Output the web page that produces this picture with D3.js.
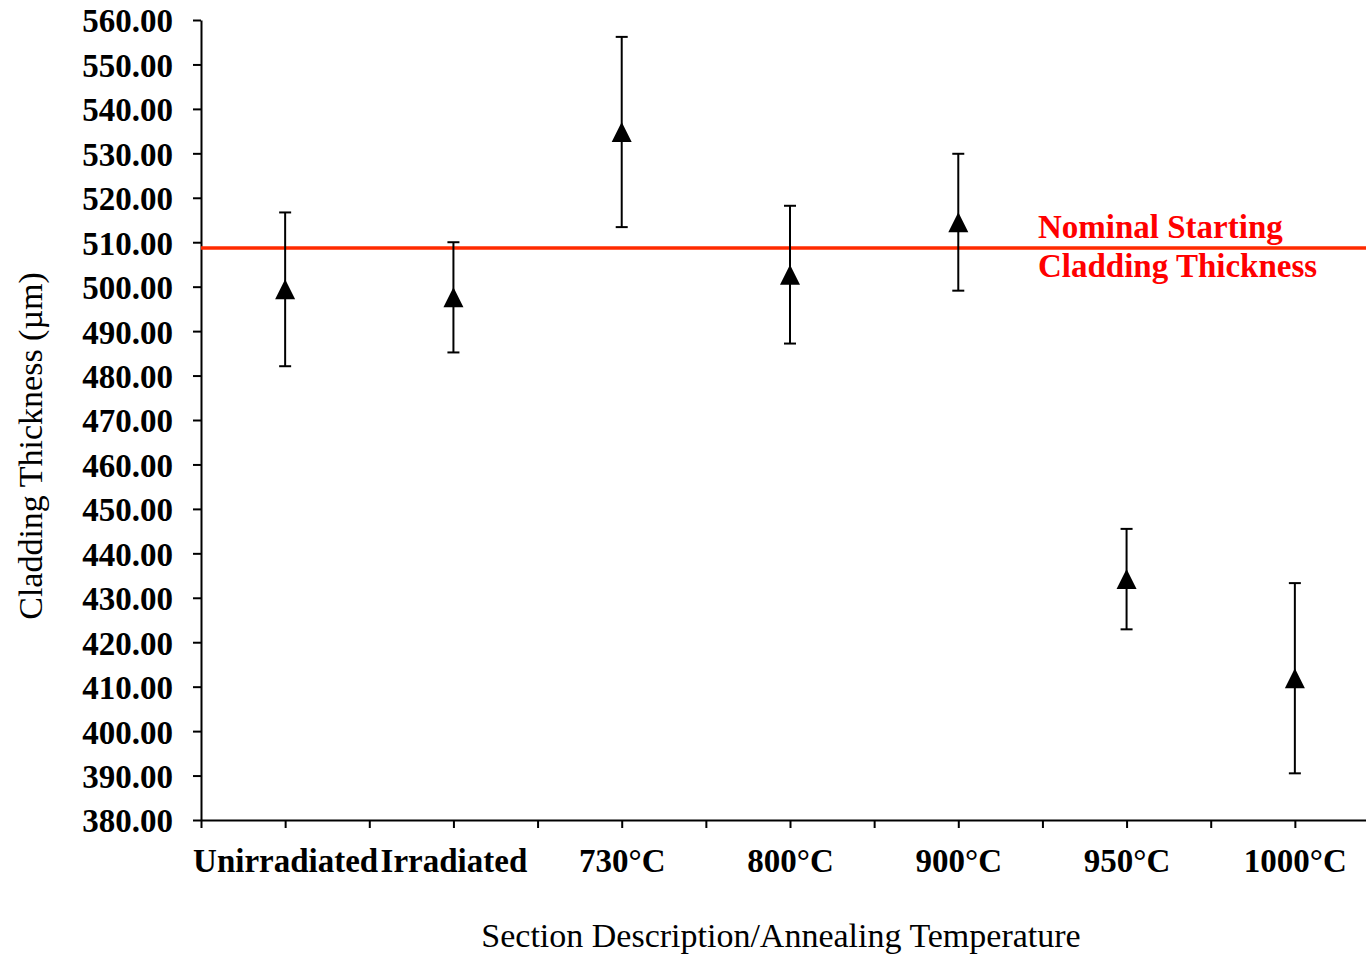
<!DOCTYPE html>
<html>
<head>
<meta charset="utf-8">
<script src="https://cdn.jsdelivr.net/npm/d3@7"></script>
<style>
  body { margin: 0; background: #fff; }
  svg { display: block; }
</style>
</head>
<body>
<div id="chart"></div>
<script>
// section / annealing temperature categories
const categories = ["Unirradiated", "Irradiated", "730°C", "800°C", "900°C", "950°C", "1000°C"];
// mean cladding thickness (µm) and error bar half-width
const means = [499.4, 497.6, 534.8, 502.7, 514.5, 434.2, 411.9];
const errors = [17.3, 12.4, 21.4, 15.5, 15.4, 11.3, 21.4];
const yTicks = d3.range(380, 561, 10);
const nominalThickness = 508.7;
const nominalLabel = ["Nominal Starting", "Cladding Thickness"];

const width = 1366, height = 956;
const serif = "'Liberation Serif', 'Times New Roman', serif";

const svg = d3.select("#chart")
  .append("svg")
  .attr("width", width)
  .attr("height", height);

// x is a category index scale (1..7), half steps mark boundaries
const x = d3.scaleLinear().domain([0.5, categories.length + 0.5]).range([201, 1379]);
const y = d3.scaleLinear().domain([380, 560]).range([820, 20]);

// y axis
const yAxis = svg.append("g")
  .attr("transform", "translate(201,0)")
  .call(d3.axisLeft(y)
    .tickValues(yTicks)
    .tickFormat(d3.format(".2f"))
    .tickSize(8)
    .tickSizeOuter(0)
    .tickPadding(20));

// x axis
const xAxis = svg.append("g")
  .attr("transform", "translate(0,820)")
  .call(d3.axisBottom(x)
    .tickValues(d3.range(0.5, categories.length + 0.01, 0.5))
    .tickFormat(d => Number.isInteger(d) ? categories[d - 1] : "")
    .tickSize(8)
    .tickSizeOuter(0)
    .tickPadding(21));

[yAxis, xAxis].forEach(ax => {
  ax.select(".domain").attr("stroke", "#000").attr("stroke-width", 2);
  ax.selectAll(".tick line").attr("stroke", "#000").attr("stroke-width", 2);
  ax.selectAll(".tick text")
    .attr("fill", "#000")
    .style("font-family", serif)
    .style("font-size", "33px")
    .style("font-weight", "bold");
});
yAxis.selectAll(".tick text").attr("dy", "0.36em");

// nominal starting thickness line
svg.append("line")
  .attr("x1", x(0.5))
  .attr("x2", width)
  .attr("y1", y(nominalThickness))
  .attr("y2", y(nominalThickness))
  .attr("stroke", "#ff2a00")
  .attr("stroke-width", 3.5);

svg.append("text")
  .attr("x", 1038)
  .attr("y", 238)
  .attr("fill", "#ff0000")
  .style("font-family", serif)
  .style("font-size", "33px")
  .style("font-weight", "bold")
  .selectAll("tspan")
  .data(nominalLabel)
  .join("tspan")
  .attr("x", 1038)
  .attr("dy", (d, i) => i === 0 ? 0 : 39)
  .text(d => d);

// error bars
const points = categories.map((c, i) => ({ cat: c, idx: i + 1, mean: means[i], err: errors[i] }));
const capW = 12;

const bars = svg.append("g").attr("stroke", "#000").attr("stroke-width", 2);
points.forEach(d => {
  const cx = x(d.idx);
  bars.append("line")
    .attr("x1", cx).attr("x2", cx)
    .attr("y1", y(d.mean + d.err)).attr("y2", y(d.mean - d.err));
  [d.mean + d.err, d.mean - d.err].forEach(v => {
    bars.append("line")
      .attr("x1", cx - capW / 2).attr("x2", cx + capW / 2)
      .attr("y1", y(v)).attr("y2", y(v));
  });
});

// triangle markers
const tri = 20;
svg.append("g")
  .selectAll("path")
  .data(points)
  .join("path")
  .attr("d", d => {
    const cx = x(d.idx), cy = y(d.mean);
    return `M${cx},${cy - tri / 2}L${cx + tri / 2},${cy + tri / 2}L${cx - tri / 2},${cy + tri / 2}Z`;
  })
  .attr("fill", "#000");

// axis titles
svg.append("text")
  .attr("x", 781)
  .attr("y", 947)
  .attr("text-anchor", "middle")
  .attr("fill", "#000")
  .style("font-family", serif)
  .style("font-size", "34px")
  .text("Section Description/Annealing Temperature");

svg.append("text")
  .attr("transform", "translate(42,446) rotate(-90)")
  .attr("text-anchor", "middle")
  .attr("fill", "#000")
  .style("font-family", serif)
  .style("font-size", "34px")
  .text("Cladding Thickness (µm)");
</script>
</body>
</html>
